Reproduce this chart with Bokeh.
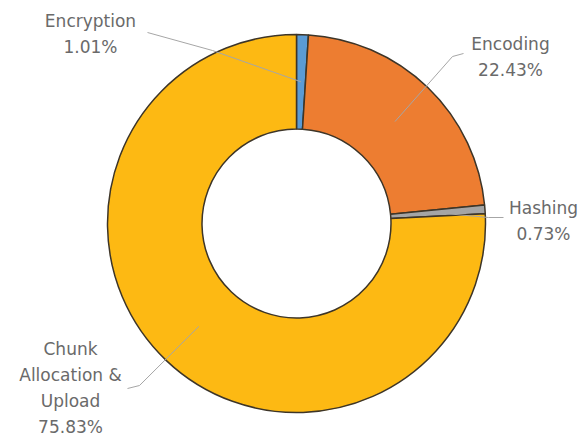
import math
from bokeh.plotting import figure
from bokeh.models import ColumnDataSource, Range1d
from bokeh.core.properties import value
from bokeh.embed import file_html
from bokeh.resources import INLINE

# ---- data ----
categories = ["Encryption", "Encoding", "Hashing", "Chunk Allocation & Upload"]
label_lines = [["Encryption"], ["Encoding"], ["Hashing"], ["Chunk", "Allocation &", "Upload"]]
percents = [1.01, 22.43, 0.73, 75.83]
colors = ["#5B9BD5", "#ED7D31", "#A5A5A5", "#FDB913"]

# ---- layout (pixel space, y measured from top) ----
W, H = 580, 437
CX, CY = 296, 223
R_OUT, R_IN = 189, 94.5
LINE_GAP = 26
label_anchor = [(90, 20), (510, 43), (543, 207), (70, 348)]
leader_start = [(147, 32), (463, 53), (503, 217), (127, 388)]
leader_elbow = [(212, 50), (452, 56), (488, 217), (139, 385)]

def fy(y):
    return H - y

p = figure(width=W, height=H, output_backend="svg", toolbar_location=None,
           x_range=Range1d(0, W), y_range=Range1d(0, H),
           min_border=0, min_border_left=0, min_border_right=0,
           min_border_top=0, min_border_bottom=0)
p.axis.visible = False
p.grid.visible = False
p.outline_line_color = None
p.background_fill_color = "white"
p.border_fill_color = "white"

total = sum(percents)
starts, ends, mids = [], [], []
cum = 0.0
for v in percents:
    a0 = math.pi / 2 - 2 * math.pi * cum / total
    cum += v
    a1 = math.pi / 2 - 2 * math.pi * cum / total
    starts.append(a0)
    ends.append(a1)
    mids.append((a0 + a1) / 2)

src = ColumnDataSource(dict(x=[CX] * 4, y=[fy(CY)] * 4, start=starts, end=ends,
                            color=colors, name=categories))
p.annular_wedge(x="x", y="y", inner_radius=R_IN, outer_radius=R_OUT,
                start_angle="start", end_angle="end", direction="clock",
                fill_color="color", line_color="#3d3528", line_width=1.5, source=src)

# leader lines
r_mid = (R_IN + R_OUT) / 2
xs, ys = [], []
for i, m in enumerate(mids):
    ex = CX + r_mid * math.cos(m)
    ey = fy(CY) + r_mid * math.sin(m)
    sx, sy = leader_start[i]
    bx, by = leader_elbow[i]
    xs.append([sx, bx, ex])
    ys.append([fy(sy), fy(by), ey])
p.multi_line(xs=xs, ys=ys, line_color="#A6A6A6", line_width=1)

# labels
tx, ty, tt = [], [], []
for i, lines in enumerate(label_lines):
    ax, ay = label_anchor[i]
    all_lines = lines + [f"{percents[i]:.2f}%"]
    for k, t in enumerate(all_lines):
        tx.append(ax)
        ty.append(fy(ay + k * LINE_GAP))
        tt.append(t)
p.text(x=tx, y=ty, text=tt, text_align="center", text_baseline="middle",
       text_font=value("DejaVu Sans"), text_font_size="17px", text_color="#6a6a6a")

open("out.html", "w").write(file_html(p, INLINE))
